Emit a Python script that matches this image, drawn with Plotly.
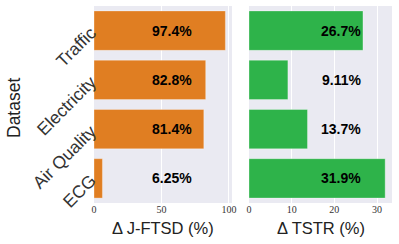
import plotly.graph_objects as go

categories = ["Traffic", "Electricity", "Air Quality", "ECG"]
jftsd = [97.4, 82.8, 81.4, 6.25]
tstr = [26.7, 9.11, 13.7, 31.9]
jftsd_labels = ["97.4%", "82.8%", "81.4%", "6.25%"]
tstr_labels = ["26.7%", "9.11%", "13.7%", "31.9%"]
jftsd_ticks = [0, 50, 100]
tstr_ticks = [0, 10, 20, 30]

orange = "#E07E22"
green = "#2EB34A"
bg = "#EAEAF2"

fig = go.Figure()
fig.add_trace(go.Bar(y=categories, x=jftsd, orientation="h", marker=dict(color=orange, line=dict(color="rgba(255,255,255,0.4)", width=0.8)),
                     width=0.8, xaxis="x", yaxis="y", showlegend=False, hoverinfo="skip"))
fig.add_trace(go.Bar(y=categories, x=tstr, orientation="h", marker=dict(color=green, line=dict(color="rgba(255,255,255,0.4)", width=0.8)),
                     width=0.8, xaxis="x2", yaxis="y2", showlegend=False, hoverinfo="skip"))

W, H = 399, 244
ydom = [1 - 203 / H, 1 - 6 / H]
tickfont = dict(family="Liberation Serif", size=10, color="#333333")

ann = []
for c, lab in zip(categories, jftsd_labels):
    ann.append(dict(x=74, y=c, xref="x", yref="y", text=lab, showarrow=False, xanchor="right",
                    font=dict(family="Liberation Sans", size=14, color="black", weight="bold")))
for c, lab in zip(categories, tstr_labels):
    ann.append(dict(x=26.7, y=c, xref="x2", yref="y2", text=lab, showarrow=False, xanchor="right",
                    font=dict(family="Liberation Sans", size=14, color="black", weight="bold")))
ann.append(dict(x=(94 + 232) / 2 / W, y=1 - 228 / H, xref="paper", yref="paper", text="Δ J-FTSD (%)", showarrow=False,
                xanchor="center", yanchor="middle", font=dict(family="Liberation Sans", size=16.5, color="#222222")))
ann.append(dict(x=(249 + 392) / 2 / W, y=1 - 228 / H, xref="paper", yref="paper", text="Δ TSTR (%)", showarrow=False,
                xanchor="center", yanchor="middle", font=dict(family="Liberation Sans", size=16.5, color="#222222")))
ann.append(dict(x=14 / W, y=1 - 108 / H, xref="paper", yref="paper", text="Dataset", showarrow=False, textangle=-90,
                xanchor="center", yanchor="middle", font=dict(family="Liberation Sans", size=17.5, color="#222222")))

fig.update_layout(
    width=W, height=H, margin=dict(l=0, r=0, t=0, b=0, autoexpand=False),
    paper_bgcolor="white", plot_bgcolor=bg,
    xaxis=dict(domain=[94 / W, 232 / W], range=[0, 102.3], tickvals=jftsd_ticks, showgrid=True, gridcolor="white",
               gridwidth=1, zeroline=False, tickfont=tickfont, ticks="", showline=False, fixedrange=True,
               automargin=False, ticklabelstandoff=-1),
    yaxis=dict(domain=ydom, categoryorder="array", categoryarray=categories, autorange="reversed",
               showgrid=False, zeroline=False, tickangle=-45, ticks="", ticklen=0, automargin=False,
               tickfont=dict(family="Liberation Sans", size=17.5, color="#333333"), fixedrange=True,
               ticklabelstandoff=2),
    xaxis2=dict(domain=[249 / W, 392 / W], range=[0, 33.5], tickvals=tstr_ticks, showgrid=True, gridcolor="white",
                gridwidth=1, zeroline=False, tickfont=tickfont, ticks="", showline=False, anchor="y2", fixedrange=True,
                automargin=False, ticklabelstandoff=-1),
    yaxis2=dict(domain=ydom, categoryorder="array", categoryarray=categories, autorange="reversed", anchor="x2",
                showgrid=False, zeroline=False, showticklabels=False, fixedrange=True, automargin=False),
    annotations=ann,
    bargap=0.2,
)

fig.write_html("out.html", config={"displayModeBar": False},
               post_script="document.body.style.margin='0';document.body.style.padding='0';")
